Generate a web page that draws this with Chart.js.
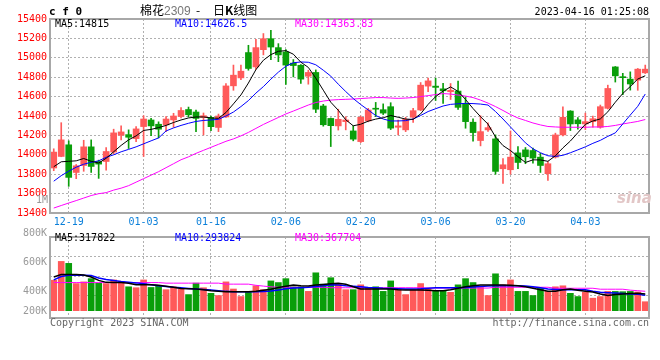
<!DOCTYPE html>
<html>
<head>
<meta charset="utf-8">
<script src="https://cdn.jsdelivr.net/npm/chart.js@4.4.0/dist/chart.umd.min.js"></script>
<style>
body{margin:0;background:#fff;width:660px;height:360px;position:relative;overflow:hidden;font-family:"DejaVu Sans Mono",monospace}
.t{position:absolute;white-space:pre;font-size:10px;line-height:10px}
#c1{position:absolute;left:0;top:0}
#c2{position:absolute;left:0;top:228px}
</style>
</head>
<body>
<canvas id="c1" width="660" height="228"></canvas>
<canvas id="c2" width="660" height="132"></canvas>

<div class="t" style="left:49px;top:6px;font-size:11px;line-height:11px;font-weight:bold">c f 0</div>
<div class="t" style="left:140px;top:4px;font-size:12px;line-height:12px;font-family:'Noto Sans CJK SC'">棉花<span style="color:#777;font-family:'Liberation Sans'">2309</span></div>
<div class="t" style="left:196px;top:4px;font-size:12px;line-height:12px;font-family:'Noto Sans CJK SC'">-</div>
<div class="t" style="left:213px;top:4px;font-size:12px;line-height:12px;font-family:'Noto Sans CJK SC'">日<b>K</b>线图</div>
<div class="t" style="right:11px;top:7px">2023-04-16 01:25:08</div>
<div class="t" style="right:612px;top:195px;color:#999">1M</div>
<div class="t" style="left:617px;top:191px;font-size:15px;line-height:15px;font-style:italic;font-weight:bold;color:#e2c6c6;font-family:'DejaVu Sans'">sina</div>
<div class="t" style="left:50px;top:318px;color:#666">Copyright 2023 SINA.COM</div>
<div class="t" style="right:11px;top:318px;color:#666">http://finance.sina.com.cn</div>
<div id="legends"></div>

<script>
// dates of the trading days
const dates = ['12-15','12-16','12-19','12-20','12-21','12-22','12-23','12-26','12-27','12-28','12-29','12-30',
  '01-03','01-04','01-05','01-06','01-09','01-10','01-11','01-12','01-13','01-16','01-17','01-18','01-19','01-20','01-30','01-31',
  '02-01','02-02','02-03','02-06','02-07','02-08','02-09','02-10','02-13','02-14','02-15','02-16','02-17','02-20','02-21','02-22','02-23','02-24','02-27','02-28',
  '03-01','03-02','03-03','03-06','03-07','03-08','03-09','03-10','03-13','03-14','03-15','03-16','03-17','03-20','03-21','03-22','03-23','03-24','03-27','03-28','03-29','03-30','03-31',
  '04-03','04-04','04-06','04-07','04-10','04-11','04-12','04-13','04-14']
const shownDates = ['12-19','01-03','01-16','02-06','02-20','03-06','03-20','04-03']

// daily prices
const opens = [13864,13983,14103,13818,13890,14082,13931,13931,14028,14202,14208,14167,14291,14359,14315,14308,14359,14395,14467,14441,
  14385,14385,14282,14390,14711,14793,15054,14906,15084,15197,15105,15060,14945,14923,14810,14849,14503,14375,14298,14342,
  14246,14136,14349,14475,14465,14496,14284,14257,14387,14462,14708,14708,14680,14650,14657,14530,14336,14147,14257,14164,
  13856,13846,14020,14051,14044,13976,13805,13976,14205,14451,14360,14318,14342,14284,14479,14906,14805,14780,14770,14845]
const highs = [14062,14331,14144,13900,14150,14154,13945,14075,14264,14298,14257,14291,14403,14376,14340,14395,14428,14487,14492,14462,
  14431,14400,14420,14735,14925,14925,15129,15190,15250,15282,15146,15084,14982,14930,14872,14875,14520,14380,14470,14393,
  14298,14400,14479,14540,14525,14537,14359,14387,14480,14745,14790,14790,14736,14735,14760,14598,14370,14403,14330,14205,
  13960,14246,14085,14075,14069,14017,13931,14223,14495,14455,14385,14430,14400,14513,14718,14910,14840,14855,14890,14925]
const lows = [13836,13980,13675,13754,13830,13818,13757,13842,14007,14154,14065,14136,13983,14198,14175,14239,14284,14380,14390,14239,
  14205,14249,14239,14385,14665,14775,14872,14880,15030,14982,14960,14725,14803,14735,14728,14435,14295,14085,14255,14257,
  14144,14126,14340,14393,14415,14260,14205,14239,14335,14455,14650,14560,14530,14570,14469,14274,14140,14092,14240,13800,
  13705,13800,13856,13908,13915,13818,13736,13966,14195,14250,14265,14260,14284,14274,14472,14750,14620,14667,14665,14838]
const closes = [14028,14154,13767,13887,14082,13880,13904,14034,14226,14236,14181,14267,14369,14298,14264,14369,14400,14457,14413,14375,
  14403,14290,14400,14710,14821,14862,14890,15105,15197,15111,15030,14925,14920,14780,14849,14470,14310,14300,14366,14359,
  14161,14387,14462,14470,14430,14275,14298,14366,14455,14718,14762,14695,14660,14665,14489,14342,14229,14239,14280,13829,
  13897,13976,13921,13980,13966,13890,13908,14205,14387,14318,14320,14342,14372,14496,14684,14814,14795,14730,14883,14883]

// moving averages of the price
const ma5 = [13877,13928,13933,13938,13962,13933,13915,13964,14031,14097,14154,14195,14251,14262,14280,14303,14333,14359,14380,14390,
  14390,14380,14376,14436,14525,14617,14740,14878,14975,15033,15067,15074,15037,14955,14901,14790,14666,14542,14459,14361,
  14299,14315,14347,14368,14382,14405,14387,14368,14365,14422,14520,14599,14658,14700,14654,14570,14477,14393,14316,14184,
  14095,14044,13981,13921,13948,13947,13933,13990,14071,14142,14228,14314,14348,14370,14443,14542,14632,14704,14781,14815]
const ma10 = [13728,13785,13831,13872,13903,13923,13938,13974,14000,14031,14056,14082,14113,14144,14174,14246,14277,14303,14325,14344,
  14354,14359,14366,14400,14441,14497,14559,14636,14703,14780,14852,14913,14949,14957,14954,14928,14872,14811,14728,14652,
  14580,14518,14462,14405,14369,14349,14349,14352,14369,14405,14446,14475,14503,14520,14526,14530,14528,14523,14513,14446,
  14369,14287,14205,14123,14062,14021,13990,13983,13995,14021,14051,14082,14118,14149,14190,14226,14318,14410,14500,14626.5]
const ma30 = [13451,13477,13503,13528,13554,13580,13599,13610,13636,13656,13682,13718,13754,13790,13826,13867,13908,13949,13979,14015,
  14046,14077,14108,14139,14164,14195,14231,14272,14313,14349,14385,14421,14451,14482,14513,14539,14554,14564,14569,14572,
  14575,14580,14585,14590,14590,14585,14582,14585,14590,14600,14610,14621,14631,14626,14616,14605,14590,14564,14533,14497,
  14457,14415,14379,14354,14328,14308,14292,14287,14284,14284,14284,14284,14287,14287,14292,14303,14318,14331,14344,14363.83]

// volume and its moving averages
const volumes = [577000,934000,897000,514000,546000,607000,522000,514000,583000,546000,453000,435000,583000,440000,472000,398000,453000,411000,305000,522000,
  435000,329000,287000,546000,411000,268000,348000,472000,398000,564000,533000,607000,453000,453000,366000,718000,503000,625000,503000,398000,
  398000,490000,440000,453000,366000,564000,411000,305000,392000,514000,411000,379000,379000,348000,490000,607000,533000,440000,287000,699000,
  490000,583000,366000,366000,287000,422000,366000,453000,472000,329000,268000,348000,237000,268000,366000,365000,360000,365000,355000,170000]
const volMa5 = [638000,685000,688000,688000,675000,638000,574000,537000,533000,533000,518000,490000,490000,490000,481000,463000,444000,422000,416000,411000,
  398000,379000,370000,361000,361000,361000,361000,370000,389000,407000,440000,463000,485000,472000,466000,485000,496000,509000,518000,500000,
  453000,411000,411000,411000,411000,411000,398000,392000,392000,392000,389000,379000,379000,398000,426000,453000,472000,485000,485000,485000,
  485000,481000,472000,453000,426000,398000,370000,370000,398000,411000,389000,370000,352000,315000,287000,305000,318000,327000,329000,317822]
const volMa10 = [583000,648000,670000,670000,670000,666000,620000,592000,574000,555000,540000,527000,509000,490000,472000,459000,444000,435000,422000,411000,
  403000,392000,379000,366000,361000,361000,361000,361000,364000,374000,392000,416000,429000,435000,444000,459000,472000,490000,485000,472000,
  463000,453000,440000,435000,426000,422000,416000,411000,411000,416000,426000,435000,435000,435000,435000,440000,448000,459000,466000,472000,
  472000,472000,472000,466000,453000,435000,411000,403000,398000,398000,398000,398000,370000,348000,342000,333000,324000,318000,311000,293824]
const volMa30 = [533000,533000,533000,533000,533000,533000,533000,533000,533000,533000,533000,533000,533000,533000,533000,522000,522000,522000,522000,522000,
  522000,522000,522000,503000,503000,503000,503000,481000,466000,453000,444000,444000,444000,444000,444000,444000,444000,435000,435000,435000,
  435000,435000,435000,435000,435000,435000,435000,435000,435000,435000,429000,429000,429000,429000,429000,429000,429000,429000,429000,444000,
  444000,444000,444000,444000,444000,444000,444000,425000,425000,425000,425000,425000,425000,407000,407000,407000,407000,389000,379000,367704]

// axis ticks
const priceTicks = [13400,13600,13800,14000,14200,14400,14600,14800,15000,15200,15400]
const volTickLabels = ['800K','600K','400K','200K']
const volLabelAt = [1470750,915750,360750,-9250]
const volGridAt = [286750,656750,1026750]

// legend texts
const priceLegend = [['MA5:14815','#000',55],['MA10:14626.5','#0000ff',175],['MA30:14363.83','#ff00ff',295]]
const volLegend = [['MA5:317822','#000',55],['MA10:293824','#0000ff',175],['MA30:367704','#ff00ff',295]]

let html = ''
priceLegend.forEach(l => { html += '<div class="t" style="left:' + l[2] + 'px;top:19px;color:' + l[1] + '">' + l[0] + '</div>' })
volLegend.forEach(l => { html += '<div class="t" style="left:' + l[2] + 'px;top:233px;color:' + l[1] + '">' + l[0] + '</div>' })
document.getElementById('legends').innerHTML = html

const red = '#ff5a5a'
const green = '#0a9e0a'
const candleColors = closes.map((c, i) => c >= opens[i] ? red : green)
const font = {family: 'DejaVu Sans Mono', size: 10}
const gridColor = ctx => shownDates.includes(dates[ctx.index]) ? '#b0b0b0' : 'rgba(0,0,0,0)'

// grey box round each plot
const frame = {
  id: 'frame',
  afterDraw(chart) {
    const a = chart.chartArea
    const ctx = chart.ctx
    ctx.save()
    ctx.strokeStyle = '#a8a8a8'
    ctx.lineWidth = 2
    ctx.strokeRect(a.left, a.top, a.right - a.left, a.bottom - a.top)
    ctx.restore()
  }
}

function maLine(data, color, width) {
  return {type: 'line', data: data, borderColor: color, borderWidth: width, pointRadius: 0, tension: 0, order: 0}
}

// price chart
new Chart(document.getElementById('c1'), {
  type: 'bar',
  data: {
    labels: dates,
    datasets: [
      maLine(ma5, '#000000', 1),
      maLine(ma10, '#0000ff', 1),
      maLine(ma30, '#ff00ff', 1),
      {data: opens.map((o, i) => [o, closes[i]]), backgroundColor: candleColors, barThickness: 6, minBarLength: 1, grouped: false, order: 1},
      {data: lows.map((l, i) => [l, highs[i]]), backgroundColor: candleColors, barThickness: 1, grouped: false, order: 2}
    ]
  },
  options: {
    responsive: false,
    animation: false,
    layout: {padding: {top: 19, right: 11, left: 0, bottom: 0}},
    plugins: {legend: {display: false}, tooltip: {enabled: false}},
    scales: {
      x: {
        grid: {offset: false, color: gridColor, drawTicks: false},
        border: {display: false, dash: [2, 2]},
        ticks: {autoSkip: false, maxRotation: 0, padding: 3, color: '#0a7fd9', font: font,
          callback: (v, i) => shownDates.includes(dates[i]) ? dates[i] : ''},
        afterFit: s => { s.height = 15 }
      },
      y: {
        min: 13400, max: 15400,
        afterBuildTicks: s => { s.ticks = priceTicks.map(v => ({value: v})) },
        grid: {color: '#b0b0b0', drawTicks: false},
        border: {display: false, dash: [2, 2]},
        ticks: {color: '#ff0000', padding: 3, font: font, callback: v => String(v)},
        afterFit: s => { s.width = 50 }
      }
    }
  },
  plugins: [frame]
})

// volume chart
new Chart(document.getElementById('c2'), {
  type: 'bar',
  data: {
    labels: dates,
    datasets: [
      maLine(volMa5, '#000000', 1.5),
      maLine(volMa10, '#0000ff', 1.5),
      maLine(volMa30, '#ff00ff', 1),
      {data: volumes, backgroundColor: candleColors, barThickness: 6, order: 1}
    ]
  },
  options: {
    responsive: false,
    animation: false,
    layout: {padding: {top: 7, right: 11, left: 0, bottom: 42}},
    plugins: {legend: {display: false}, tooltip: {enabled: false}},
    scales: {
      x: {
        grid: {offset: false, color: gridColor, drawTicks: false},
        border: {display: false, dash: [2, 2]},
        ticks: {display: false, autoSkip: false},
        afterFit: s => { s.height = 0 }
      },
      y: {
        min: -138750, max: 1396750,
        afterBuildTicks: s => { s.ticks = volGridAt.map(v => ({value: v})) },
        grid: {color: '#b0b0b0', drawTicks: false},
        border: {display: false, dash: [2, 2]},
        ticks: {display: false},
        afterFit: s => { s.width = 0 }
      },
      yl: {
        position: 'left',
        min: -138750, max: 1396750,
        afterBuildTicks: s => { s.ticks = volLabelAt.map(v => ({value: v})) },
        grid: {display: false, drawTicks: false},
        border: {display: false},
        ticks: {color: '#999', padding: 3, font: font, callback: (v, i) => volTickLabels[i]},
        afterFit: s => { s.width = 50 }
      }
    }
  },
  plugins: [frame]
})
</script>
</body>
</html>
